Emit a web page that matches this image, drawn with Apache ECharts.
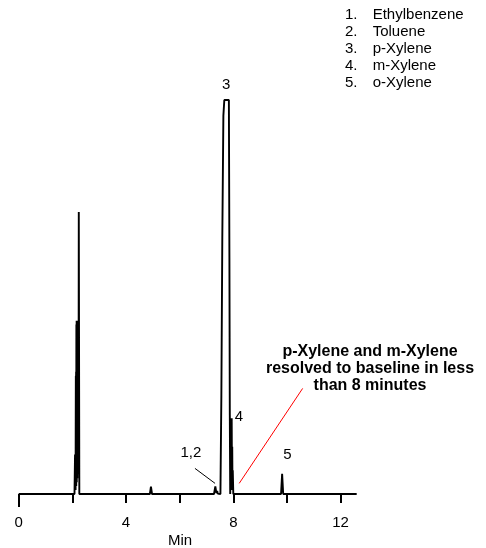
<!DOCTYPE html>
<html>
<head>
<meta charset="utf-8">
<script src="https://cdn.jsdelivr.net/npm/echarts@6/dist/echarts.min.js"></script>
<style>
html,body{margin:0;padding:0;background:#fff;}
#c{width:486px;height:548px;}
</style>
</head>
<body>
<div id="c"></div>
<script>
// Chromatogram trace: retention time (min) and detector signal (arbitrary units)
const times = [0, 2.08, 2.10, 2.11, 2.115, 2.12, 2.13, 2.135, 2.14, 2.145, 2.15, 2.155, 2.16, 2.165, 2.17, 2.175,
  2.18, 2.185, 2.19, 2.195, 2.20, 2.205, 2.21, 2.215, 2.22, 2.23, 2.24, 2.26,
  4.89, 4.93, 4.97,
  7.28, 7.33, 7.37, 7.40, 7.42, 7.45,
  7.52, 7.555, 7.59, 7.63, 7.665, 7.835, 7.855, 7.87, 7.885,
  7.90, 7.91, 7.92, 7.93, 7.94, 7.95, 7.96, 7.97, 7.98, 8.00,
  9.78, 9.82, 9.86,
  12.6];
const signal = [0, 0, 10, 1, 9, 1, 30, 2, 31, 2, 43, 3, 44, 3, 43, 4,
  44, 4, 43, 5, 44, 6, 43, 8, 44, 10, 71.6, 0,
  0, 1.9, 0,
  0, 1.9, 0.2, 0.8, 0.1, 0,
  0, 25, 65, 96, 100, 100, 60, 20, 0,
  8, 1, 14, 2, 19.2, 3, 12, 1, 6, 0,
  0, 5.1, 0,
  0];

// Peak labels
const peakLabels = ['3', '4', '1,2', '5'];
const peakLabelTime = [7.73, 8.21, 6.42, 10.02];
const peakLabelSignal = [103.8, 19.5, 10.4, 9.9];

// Leader lines (from, to) in data units
const leaderFrom = [[6.57, 6.5], [8.22, 2.7]];
const leaderTo = [[7.32, 2.7], [10.585, 26.8]];
const leaderColor = ['#000000', '#ff0000'];

// Axis ticks and labels
const tickValues = [2, 4, 6, 8, 10, 12];
const labelValues = [0, 4, 8, 12];
const originTick = [0];

// Legend and note text
const legendNums = ['1.', '2.', '3.', '4.', '5.'];
const legendNames = ['Ethylbenzene', 'Toluene', 'p-Xylene', 'm-Xylene', 'o-Xylene'];
const noteLines = ['p-Xylene and m-Xylene', 'resolved to baseline in less', 'than 8 minutes'];
const axisTitle = 'Min';

const FONT = 'Liberation Sans, Arial, Helvetica, sans-serif';
const chart = echarts.init(document.getElementById('c'), null, {renderer: 'canvas'});

const option = {
  animation: false,
  backgroundColor: '#fff',
  grid: {left: 18.7, width: 338, top: 60.6, bottom: 54},
  xAxis: [{
    type: 'value', min: 0, max: 12.6, position: 'bottom', offset: 11,
    axisLine: {show: false},
    axisTick: {show: true, customValues: tickValues, length: 9, lineStyle: {color: '#000', width: 2}},
    axisLabel: {show: true, customValues: labelValues, margin: 10, fontSize: 15, color: '#000', fontFamily: FONT},
    splitLine: {show: false}
  }, {
    type: 'value', min: 0, max: 12.6, position: 'bottom', offset: 0,
    axisLine: {show: false},
    axisTick: {show: true, customValues: originTick, length: 13, lineStyle: {color: '#000', width: 2}},
    axisLabel: {show: false},
    splitLine: {show: false}
  }],
  yAxis: {type: 'value', min: 0, max: 110, show: false, splitLine: {show: false}},
  series: [{
    type: 'line',
    xAxisIndex: 0,
    data: times.map((t, i) => [t, signal[i]]),
    showSymbol: false,
    symbol: 'none',
    clip: false,
    lineStyle: {color: '#000', width: 1.9},
    markLine: {
      silent: true,
      symbol: ['none', 'none'],
      label: {show: false},
      data: leaderFrom.map((p, i) => [
        {coord: p, lineStyle: {color: leaderColor[i], width: 1, type: 'solid', opacity: 1}},
        {coord: leaderTo[i]}
      ])
    }
  }, {
    type: 'scatter',
    xAxisIndex: 0,
    symbolSize: 0,
    clip: false,
    itemStyle: {opacity: 1, color: '#000'},
    data: peakLabels.map((n, i) => ({name: n, value: [peakLabelTime[i], peakLabelSignal[i]]})),
    label: {
      show: true, position: [0, 0], align: 'center', verticalAlign: 'middle',
      formatter: p => p.name, opacity: 1,
      fontSize: 15, color: '#000000', fontFamily: FONT, textBorderWidth: 0
    }
  }],
  graphic: [{
    type: 'text', left: 345, top: 6.8,
    style: {text: legendNums.join('\n'), font: '15px ' + FONT, fill: '#000', lineHeight: 17}
  }, {
    type: 'text', left: 372.7, top: 6.8,
    style: {text: legendNames.join('\n'), font: '15px ' + FONT, fill: '#000', lineHeight: 17}
  }, {
    type: 'text', x: 370, y: 343.5,
    style: {text: noteLines.join('\n'), font: 'bold 16px ' + FONT, fill: '#000', lineHeight: 17, align: 'center', verticalAlign: 'top'}
  }, {
    type: 'text', x: 180, y: 540.5,
    style: {text: axisTitle, font: '15px ' + FONT, fill: '#000', align: 'center', verticalAlign: 'middle'}
  }]
};
chart.setOption(option);
</script>
</body>
</html>
